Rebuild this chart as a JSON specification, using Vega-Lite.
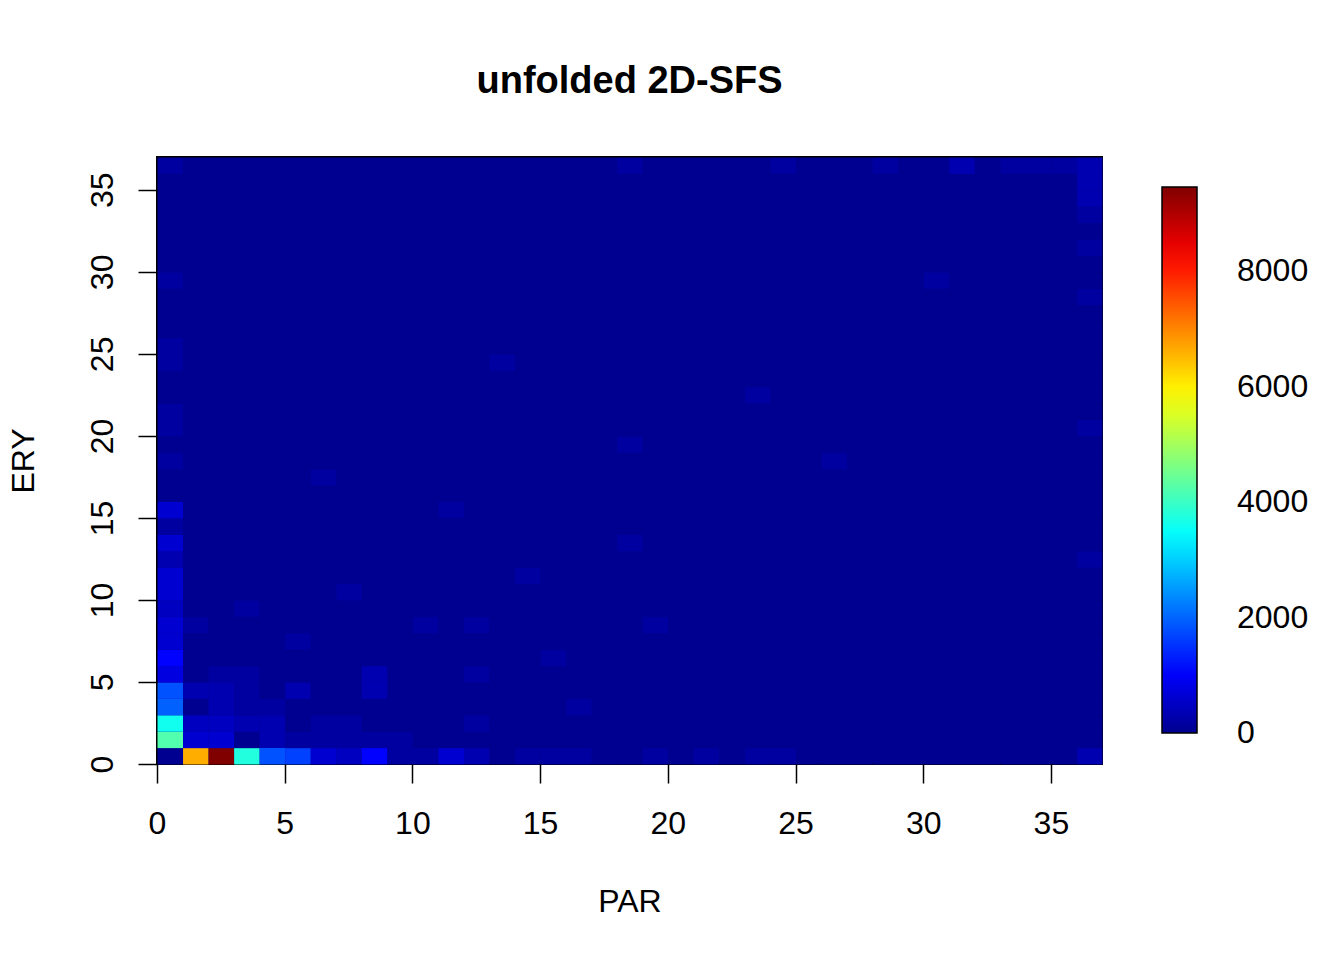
{
"$schema": "https://vega.github.io/schema/vega-lite/v6.json",
"width": 945,
"height": 607,
"autosize": {"type": "none"},
"padding": {"left": 157, "top": 157, "right": 242, "bottom": 196},
"background": "white",
"config": {"view": {"stroke": "black", "strokeWidth": 2, "fill": "#00008F"}, "font": "Liberation Sans"},
"title": {"text": "unfolded 2D-SFS", "fontSize": 38, "fontWeight": "bold", "font": "Liberation Sans", "color": "black", "anchor": "middle", "frame": "group", "baseline": "alphabetic", "offset": 26},
"data": {"values": [
{"par":0,"ery":0,"n":10},{"par":1,"ery":0,"n":6617},{"par":2,"ery":0,"n":9460},{"par":3,"ery":0,"n":3764},{"par":4,"ery":0,"n":1812},{"par":5,"ery":0,"n":1662},{"par":6,"ery":0,"n":610},{"par":7,"ery":0,"n":460},{"par":8,"ery":0,"n":1061},{"par":9,"ery":0,"n":160},{"par":10,"ery":0,"n":160},{"par":11,"ery":0,"n":610},{"par":12,"ery":0,"n":310},{"par":13,"ery":0,"n":10},{"par":14,"ery":0,"n":160},{"par":15,"ery":0,"n":160},{"par":16,"ery":0,"n":160},{"par":17,"ery":0,"n":10},{"par":18,"ery":0,"n":10},{"par":19,"ery":0,"n":160},{"par":20,"ery":0,"n":10},{"par":21,"ery":0,"n":160},{"par":22,"ery":0,"n":10},{"par":23,"ery":0,"n":160},{"par":24,"ery":0,"n":160},{"par":25,"ery":0,"n":10},{"par":26,"ery":0,"n":10},{"par":27,"ery":0,"n":10},{"par":28,"ery":0,"n":10},{"par":29,"ery":0,"n":10},{"par":30,"ery":0,"n":10},{"par":31,"ery":0,"n":10},{"par":32,"ery":0,"n":10},{"par":33,"ery":0,"n":10},{"par":34,"ery":0,"n":10},{"par":35,"ery":0,"n":10},{"par":36,"ery":0,"n":310},
{"par":0,"ery":1,"n":4214},{"par":1,"ery":1,"n":610},{"par":2,"ery":1,"n":610},{"par":3,"ery":1,"n":10},{"par":4,"ery":1,"n":310},{"par":5,"ery":1,"n":160},{"par":6,"ery":1,"n":160},{"par":7,"ery":1,"n":160},{"par":8,"ery":1,"n":160},{"par":9,"ery":1,"n":160},{"par":10,"ery":1,"n":10},{"par":11,"ery":1,"n":10},{"par":12,"ery":1,"n":10},{"par":13,"ery":1,"n":10},{"par":14,"ery":1,"n":10},{"par":15,"ery":1,"n":10},{"par":16,"ery":1,"n":10},{"par":17,"ery":1,"n":10},{"par":18,"ery":1,"n":10},{"par":19,"ery":1,"n":10},{"par":20,"ery":1,"n":10},{"par":21,"ery":1,"n":10},{"par":22,"ery":1,"n":10},{"par":23,"ery":1,"n":10},{"par":24,"ery":1,"n":10},{"par":25,"ery":1,"n":10},{"par":26,"ery":1,"n":10},{"par":27,"ery":1,"n":10},{"par":28,"ery":1,"n":10},{"par":29,"ery":1,"n":10},{"par":30,"ery":1,"n":10},{"par":31,"ery":1,"n":10},{"par":32,"ery":1,"n":10},{"par":33,"ery":1,"n":10},{"par":34,"ery":1,"n":10},{"par":35,"ery":1,"n":10},{"par":36,"ery":1,"n":10},
{"par":0,"ery":2,"n":3614},{"par":1,"ery":2,"n":460},{"par":2,"ery":2,"n":460},{"par":3,"ery":2,"n":310},{"par":4,"ery":2,"n":310},{"par":5,"ery":2,"n":10},{"par":6,"ery":2,"n":160},{"par":7,"ery":2,"n":160},{"par":8,"ery":2,"n":10},{"par":9,"ery":2,"n":10},{"par":10,"ery":2,"n":10},{"par":11,"ery":2,"n":10},{"par":12,"ery":2,"n":160},{"par":13,"ery":2,"n":10},{"par":14,"ery":2,"n":10},{"par":15,"ery":2,"n":10},{"par":16,"ery":2,"n":10},{"par":17,"ery":2,"n":10},{"par":18,"ery":2,"n":10},{"par":19,"ery":2,"n":10},{"par":20,"ery":2,"n":10},{"par":21,"ery":2,"n":10},{"par":22,"ery":2,"n":10},{"par":23,"ery":2,"n":10},{"par":24,"ery":2,"n":10},{"par":25,"ery":2,"n":10},{"par":26,"ery":2,"n":10},{"par":27,"ery":2,"n":10},{"par":28,"ery":2,"n":10},{"par":29,"ery":2,"n":10},{"par":30,"ery":2,"n":10},{"par":31,"ery":2,"n":10},{"par":32,"ery":2,"n":10},{"par":33,"ery":2,"n":10},{"par":34,"ery":2,"n":10},{"par":35,"ery":2,"n":10},{"par":36,"ery":2,"n":10},
{"par":0,"ery":3,"n":1962},{"par":1,"ery":3,"n":10},{"par":2,"ery":3,"n":310},{"par":3,"ery":3,"n":160},{"par":4,"ery":3,"n":160},{"par":5,"ery":3,"n":10},{"par":6,"ery":3,"n":10},{"par":7,"ery":3,"n":10},{"par":8,"ery":3,"n":10},{"par":9,"ery":3,"n":10},{"par":10,"ery":3,"n":10},{"par":11,"ery":3,"n":10},{"par":12,"ery":3,"n":10},{"par":13,"ery":3,"n":10},{"par":14,"ery":3,"n":10},{"par":15,"ery":3,"n":10},{"par":16,"ery":3,"n":160},{"par":17,"ery":3,"n":10},{"par":18,"ery":3,"n":10},{"par":19,"ery":3,"n":10},{"par":20,"ery":3,"n":10},{"par":21,"ery":3,"n":10},{"par":22,"ery":3,"n":10},{"par":23,"ery":3,"n":10},{"par":24,"ery":3,"n":10},{"par":25,"ery":3,"n":10},{"par":26,"ery":3,"n":10},{"par":27,"ery":3,"n":10},{"par":28,"ery":3,"n":10},{"par":29,"ery":3,"n":10},{"par":30,"ery":3,"n":10},{"par":31,"ery":3,"n":10},{"par":32,"ery":3,"n":10},{"par":33,"ery":3,"n":10},{"par":34,"ery":3,"n":10},{"par":35,"ery":3,"n":10},{"par":36,"ery":3,"n":10},
{"par":0,"ery":4,"n":1812},{"par":1,"ery":4,"n":310},{"par":2,"ery":4,"n":310},{"par":3,"ery":4,"n":160},{"par":4,"ery":4,"n":10},{"par":5,"ery":4,"n":310},{"par":6,"ery":4,"n":10},{"par":7,"ery":4,"n":10},{"par":8,"ery":4,"n":310},{"par":9,"ery":4,"n":10},{"par":10,"ery":4,"n":10},{"par":11,"ery":4,"n":10},{"par":12,"ery":4,"n":10},{"par":13,"ery":4,"n":10},{"par":14,"ery":4,"n":10},{"par":15,"ery":4,"n":10},{"par":16,"ery":4,"n":10},{"par":17,"ery":4,"n":10},{"par":18,"ery":4,"n":10},{"par":19,"ery":4,"n":10},{"par":20,"ery":4,"n":10},{"par":21,"ery":4,"n":10},{"par":22,"ery":4,"n":10},{"par":23,"ery":4,"n":10},{"par":24,"ery":4,"n":10},{"par":25,"ery":4,"n":10},{"par":26,"ery":4,"n":10},{"par":27,"ery":4,"n":10},{"par":28,"ery":4,"n":10},{"par":29,"ery":4,"n":10},{"par":30,"ery":4,"n":10},{"par":31,"ery":4,"n":10},{"par":32,"ery":4,"n":10},{"par":33,"ery":4,"n":10},{"par":34,"ery":4,"n":10},{"par":35,"ery":4,"n":10},{"par":36,"ery":4,"n":10},
{"par":0,"ery":5,"n":760},{"par":1,"ery":5,"n":10},{"par":2,"ery":5,"n":160},{"par":3,"ery":5,"n":160},{"par":4,"ery":5,"n":10},{"par":5,"ery":5,"n":10},{"par":6,"ery":5,"n":10},{"par":7,"ery":5,"n":10},{"par":8,"ery":5,"n":310},{"par":9,"ery":5,"n":10},{"par":10,"ery":5,"n":10},{"par":11,"ery":5,"n":10},{"par":12,"ery":5,"n":160},{"par":13,"ery":5,"n":10},{"par":14,"ery":5,"n":10},{"par":15,"ery":5,"n":10},{"par":16,"ery":5,"n":10},{"par":17,"ery":5,"n":10},{"par":18,"ery":5,"n":10},{"par":19,"ery":5,"n":10},{"par":20,"ery":5,"n":10},{"par":21,"ery":5,"n":10},{"par":22,"ery":5,"n":10},{"par":23,"ery":5,"n":10},{"par":24,"ery":5,"n":10},{"par":25,"ery":5,"n":10},{"par":26,"ery":5,"n":10},{"par":27,"ery":5,"n":10},{"par":28,"ery":5,"n":10},{"par":29,"ery":5,"n":10},{"par":30,"ery":5,"n":10},{"par":31,"ery":5,"n":10},{"par":32,"ery":5,"n":10},{"par":33,"ery":5,"n":10},{"par":34,"ery":5,"n":10},{"par":35,"ery":5,"n":10},{"par":36,"ery":5,"n":10},
{"par":0,"ery":6,"n":1061},{"par":1,"ery":6,"n":10},{"par":2,"ery":6,"n":10},{"par":3,"ery":6,"n":10},{"par":4,"ery":6,"n":10},{"par":5,"ery":6,"n":10},{"par":6,"ery":6,"n":10},{"par":7,"ery":6,"n":10},{"par":8,"ery":6,"n":10},{"par":9,"ery":6,"n":10},{"par":10,"ery":6,"n":10},{"par":11,"ery":6,"n":10},{"par":12,"ery":6,"n":10},{"par":13,"ery":6,"n":10},{"par":14,"ery":6,"n":10},{"par":15,"ery":6,"n":160},{"par":16,"ery":6,"n":10},{"par":17,"ery":6,"n":10},{"par":18,"ery":6,"n":10},{"par":19,"ery":6,"n":10},{"par":20,"ery":6,"n":10},{"par":21,"ery":6,"n":10},{"par":22,"ery":6,"n":10},{"par":23,"ery":6,"n":10},{"par":24,"ery":6,"n":10},{"par":25,"ery":6,"n":10},{"par":26,"ery":6,"n":10},{"par":27,"ery":6,"n":10},{"par":28,"ery":6,"n":10},{"par":29,"ery":6,"n":10},{"par":30,"ery":6,"n":10},{"par":31,"ery":6,"n":10},{"par":32,"ery":6,"n":10},{"par":33,"ery":6,"n":10},{"par":34,"ery":6,"n":10},{"par":35,"ery":6,"n":10},{"par":36,"ery":6,"n":10},
{"par":0,"ery":7,"n":610},{"par":1,"ery":7,"n":10},{"par":2,"ery":7,"n":10},{"par":3,"ery":7,"n":10},{"par":4,"ery":7,"n":10},{"par":5,"ery":7,"n":160},{"par":6,"ery":7,"n":10},{"par":7,"ery":7,"n":10},{"par":8,"ery":7,"n":10},{"par":9,"ery":7,"n":10},{"par":10,"ery":7,"n":10},{"par":11,"ery":7,"n":10},{"par":12,"ery":7,"n":10},{"par":13,"ery":7,"n":10},{"par":14,"ery":7,"n":10},{"par":15,"ery":7,"n":10},{"par":16,"ery":7,"n":10},{"par":17,"ery":7,"n":10},{"par":18,"ery":7,"n":10},{"par":19,"ery":7,"n":10},{"par":20,"ery":7,"n":10},{"par":21,"ery":7,"n":10},{"par":22,"ery":7,"n":10},{"par":23,"ery":7,"n":10},{"par":24,"ery":7,"n":10},{"par":25,"ery":7,"n":10},{"par":26,"ery":7,"n":10},{"par":27,"ery":7,"n":10},{"par":28,"ery":7,"n":10},{"par":29,"ery":7,"n":10},{"par":30,"ery":7,"n":10},{"par":31,"ery":7,"n":10},{"par":32,"ery":7,"n":10},{"par":33,"ery":7,"n":10},{"par":34,"ery":7,"n":10},{"par":35,"ery":7,"n":10},{"par":36,"ery":7,"n":10},
{"par":0,"ery":8,"n":610},{"par":1,"ery":8,"n":160},{"par":2,"ery":8,"n":10},{"par":3,"ery":8,"n":10},{"par":4,"ery":8,"n":10},{"par":5,"ery":8,"n":10},{"par":6,"ery":8,"n":10},{"par":7,"ery":8,"n":10},{"par":8,"ery":8,"n":10},{"par":9,"ery":8,"n":10},{"par":10,"ery":8,"n":160},{"par":11,"ery":8,"n":10},{"par":12,"ery":8,"n":160},{"par":13,"ery":8,"n":10},{"par":14,"ery":8,"n":10},{"par":15,"ery":8,"n":10},{"par":16,"ery":8,"n":10},{"par":17,"ery":8,"n":10},{"par":18,"ery":8,"n":10},{"par":19,"ery":8,"n":160},{"par":20,"ery":8,"n":10},{"par":21,"ery":8,"n":10},{"par":22,"ery":8,"n":10},{"par":23,"ery":8,"n":10},{"par":24,"ery":8,"n":10},{"par":25,"ery":8,"n":10},{"par":26,"ery":8,"n":10},{"par":27,"ery":8,"n":10},{"par":28,"ery":8,"n":10},{"par":29,"ery":8,"n":10},{"par":30,"ery":8,"n":10},{"par":31,"ery":8,"n":10},{"par":32,"ery":8,"n":10},{"par":33,"ery":8,"n":10},{"par":34,"ery":8,"n":10},{"par":35,"ery":8,"n":10},{"par":36,"ery":8,"n":10},
{"par":0,"ery":9,"n":460},{"par":1,"ery":9,"n":10},{"par":2,"ery":9,"n":10},{"par":3,"ery":9,"n":160},{"par":4,"ery":9,"n":10},{"par":5,"ery":9,"n":10},{"par":6,"ery":9,"n":10},{"par":7,"ery":9,"n":10},{"par":8,"ery":9,"n":10},{"par":9,"ery":9,"n":10},{"par":10,"ery":9,"n":10},{"par":11,"ery":9,"n":10},{"par":12,"ery":9,"n":10},{"par":13,"ery":9,"n":10},{"par":14,"ery":9,"n":10},{"par":15,"ery":9,"n":10},{"par":16,"ery":9,"n":10},{"par":17,"ery":9,"n":10},{"par":18,"ery":9,"n":10},{"par":19,"ery":9,"n":10},{"par":20,"ery":9,"n":10},{"par":21,"ery":9,"n":10},{"par":22,"ery":9,"n":10},{"par":23,"ery":9,"n":10},{"par":24,"ery":9,"n":10},{"par":25,"ery":9,"n":10},{"par":26,"ery":9,"n":10},{"par":27,"ery":9,"n":10},{"par":28,"ery":9,"n":10},{"par":29,"ery":9,"n":10},{"par":30,"ery":9,"n":10},{"par":31,"ery":9,"n":10},{"par":32,"ery":9,"n":10},{"par":33,"ery":9,"n":10},{"par":34,"ery":9,"n":10},{"par":35,"ery":9,"n":10},{"par":36,"ery":9,"n":10},
{"par":0,"ery":10,"n":610},{"par":1,"ery":10,"n":10},{"par":2,"ery":10,"n":10},{"par":3,"ery":10,"n":10},{"par":4,"ery":10,"n":10},{"par":5,"ery":10,"n":10},{"par":6,"ery":10,"n":10},{"par":7,"ery":10,"n":160},{"par":8,"ery":10,"n":10},{"par":9,"ery":10,"n":10},{"par":10,"ery":10,"n":10},{"par":11,"ery":10,"n":10},{"par":12,"ery":10,"n":10},{"par":13,"ery":10,"n":10},{"par":14,"ery":10,"n":10},{"par":15,"ery":10,"n":10},{"par":16,"ery":10,"n":10},{"par":17,"ery":10,"n":10},{"par":18,"ery":10,"n":10},{"par":19,"ery":10,"n":10},{"par":20,"ery":10,"n":10},{"par":21,"ery":10,"n":10},{"par":22,"ery":10,"n":10},{"par":23,"ery":10,"n":10},{"par":24,"ery":10,"n":10},{"par":25,"ery":10,"n":10},{"par":26,"ery":10,"n":10},{"par":27,"ery":10,"n":10},{"par":28,"ery":10,"n":10},{"par":29,"ery":10,"n":10},{"par":30,"ery":10,"n":10},{"par":31,"ery":10,"n":10},{"par":32,"ery":10,"n":10},{"par":33,"ery":10,"n":10},{"par":34,"ery":10,"n":10},{"par":35,"ery":10,"n":10},{"par":36,"ery":10,"n":10},
{"par":0,"ery":11,"n":610},{"par":1,"ery":11,"n":10},{"par":2,"ery":11,"n":10},{"par":3,"ery":11,"n":10},{"par":4,"ery":11,"n":10},{"par":5,"ery":11,"n":10},{"par":6,"ery":11,"n":10},{"par":7,"ery":11,"n":10},{"par":8,"ery":11,"n":10},{"par":9,"ery":11,"n":10},{"par":10,"ery":11,"n":10},{"par":11,"ery":11,"n":10},{"par":12,"ery":11,"n":10},{"par":13,"ery":11,"n":10},{"par":14,"ery":11,"n":160},{"par":15,"ery":11,"n":10},{"par":16,"ery":11,"n":10},{"par":17,"ery":11,"n":10},{"par":18,"ery":11,"n":10},{"par":19,"ery":11,"n":10},{"par":20,"ery":11,"n":10},{"par":21,"ery":11,"n":10},{"par":22,"ery":11,"n":10},{"par":23,"ery":11,"n":10},{"par":24,"ery":11,"n":10},{"par":25,"ery":11,"n":10},{"par":26,"ery":11,"n":10},{"par":27,"ery":11,"n":10},{"par":28,"ery":11,"n":10},{"par":29,"ery":11,"n":10},{"par":30,"ery":11,"n":10},{"par":31,"ery":11,"n":10},{"par":32,"ery":11,"n":10},{"par":33,"ery":11,"n":10},{"par":34,"ery":11,"n":10},{"par":35,"ery":11,"n":10},{"par":36,"ery":11,"n":10},
{"par":0,"ery":12,"n":310},{"par":1,"ery":12,"n":10},{"par":2,"ery":12,"n":10},{"par":3,"ery":12,"n":10},{"par":4,"ery":12,"n":10},{"par":5,"ery":12,"n":10},{"par":6,"ery":12,"n":10},{"par":7,"ery":12,"n":10},{"par":8,"ery":12,"n":10},{"par":9,"ery":12,"n":10},{"par":10,"ery":12,"n":10},{"par":11,"ery":12,"n":10},{"par":12,"ery":12,"n":10},{"par":13,"ery":12,"n":10},{"par":14,"ery":12,"n":10},{"par":15,"ery":12,"n":10},{"par":16,"ery":12,"n":10},{"par":17,"ery":12,"n":10},{"par":18,"ery":12,"n":10},{"par":19,"ery":12,"n":10},{"par":20,"ery":12,"n":10},{"par":21,"ery":12,"n":10},{"par":22,"ery":12,"n":10},{"par":23,"ery":12,"n":10},{"par":24,"ery":12,"n":10},{"par":25,"ery":12,"n":10},{"par":26,"ery":12,"n":10},{"par":27,"ery":12,"n":10},{"par":28,"ery":12,"n":10},{"par":29,"ery":12,"n":10},{"par":30,"ery":12,"n":10},{"par":31,"ery":12,"n":10},{"par":32,"ery":12,"n":10},{"par":33,"ery":12,"n":10},{"par":34,"ery":12,"n":10},{"par":35,"ery":12,"n":10},{"par":36,"ery":12,"n":160},
{"par":0,"ery":13,"n":610},{"par":1,"ery":13,"n":10},{"par":2,"ery":13,"n":10},{"par":3,"ery":13,"n":10},{"par":4,"ery":13,"n":10},{"par":5,"ery":13,"n":10},{"par":6,"ery":13,"n":10},{"par":7,"ery":13,"n":10},{"par":8,"ery":13,"n":10},{"par":9,"ery":13,"n":10},{"par":10,"ery":13,"n":10},{"par":11,"ery":13,"n":10},{"par":12,"ery":13,"n":10},{"par":13,"ery":13,"n":10},{"par":14,"ery":13,"n":10},{"par":15,"ery":13,"n":10},{"par":16,"ery":13,"n":10},{"par":17,"ery":13,"n":10},{"par":18,"ery":13,"n":160},{"par":19,"ery":13,"n":10},{"par":20,"ery":13,"n":10},{"par":21,"ery":13,"n":10},{"par":22,"ery":13,"n":10},{"par":23,"ery":13,"n":10},{"par":24,"ery":13,"n":10},{"par":25,"ery":13,"n":10},{"par":26,"ery":13,"n":10},{"par":27,"ery":13,"n":10},{"par":28,"ery":13,"n":10},{"par":29,"ery":13,"n":10},{"par":30,"ery":13,"n":10},{"par":31,"ery":13,"n":10},{"par":32,"ery":13,"n":10},{"par":33,"ery":13,"n":10},{"par":34,"ery":13,"n":10},{"par":35,"ery":13,"n":10},{"par":36,"ery":13,"n":10},
{"par":0,"ery":14,"n":160},{"par":1,"ery":14,"n":10},{"par":2,"ery":14,"n":10},{"par":3,"ery":14,"n":10},{"par":4,"ery":14,"n":10},{"par":5,"ery":14,"n":10},{"par":6,"ery":14,"n":10},{"par":7,"ery":14,"n":10},{"par":8,"ery":14,"n":10},{"par":9,"ery":14,"n":10},{"par":10,"ery":14,"n":10},{"par":11,"ery":14,"n":10},{"par":12,"ery":14,"n":10},{"par":13,"ery":14,"n":10},{"par":14,"ery":14,"n":10},{"par":15,"ery":14,"n":10},{"par":16,"ery":14,"n":10},{"par":17,"ery":14,"n":10},{"par":18,"ery":14,"n":10},{"par":19,"ery":14,"n":10},{"par":20,"ery":14,"n":10},{"par":21,"ery":14,"n":10},{"par":22,"ery":14,"n":10},{"par":23,"ery":14,"n":10},{"par":24,"ery":14,"n":10},{"par":25,"ery":14,"n":10},{"par":26,"ery":14,"n":10},{"par":27,"ery":14,"n":10},{"par":28,"ery":14,"n":10},{"par":29,"ery":14,"n":10},{"par":30,"ery":14,"n":10},{"par":31,"ery":14,"n":10},{"par":32,"ery":14,"n":10},{"par":33,"ery":14,"n":10},{"par":34,"ery":14,"n":10},{"par":35,"ery":14,"n":10},{"par":36,"ery":14,"n":10},
{"par":0,"ery":15,"n":610},{"par":1,"ery":15,"n":10},{"par":2,"ery":15,"n":10},{"par":3,"ery":15,"n":10},{"par":4,"ery":15,"n":10},{"par":5,"ery":15,"n":10},{"par":6,"ery":15,"n":10},{"par":7,"ery":15,"n":10},{"par":8,"ery":15,"n":10},{"par":9,"ery":15,"n":10},{"par":10,"ery":15,"n":10},{"par":11,"ery":15,"n":160},{"par":12,"ery":15,"n":10},{"par":13,"ery":15,"n":10},{"par":14,"ery":15,"n":10},{"par":15,"ery":15,"n":10},{"par":16,"ery":15,"n":10},{"par":17,"ery":15,"n":10},{"par":18,"ery":15,"n":10},{"par":19,"ery":15,"n":10},{"par":20,"ery":15,"n":10},{"par":21,"ery":15,"n":10},{"par":22,"ery":15,"n":10},{"par":23,"ery":15,"n":10},{"par":24,"ery":15,"n":10},{"par":25,"ery":15,"n":10},{"par":26,"ery":15,"n":10},{"par":27,"ery":15,"n":10},{"par":28,"ery":15,"n":10},{"par":29,"ery":15,"n":10},{"par":30,"ery":15,"n":10},{"par":31,"ery":15,"n":10},{"par":32,"ery":15,"n":10},{"par":33,"ery":15,"n":10},{"par":34,"ery":15,"n":10},{"par":35,"ery":15,"n":10},{"par":36,"ery":15,"n":10},
{"par":0,"ery":16,"n":10},{"par":1,"ery":16,"n":10},{"par":2,"ery":16,"n":10},{"par":3,"ery":16,"n":10},{"par":4,"ery":16,"n":10},{"par":5,"ery":16,"n":10},{"par":6,"ery":16,"n":10},{"par":7,"ery":16,"n":10},{"par":8,"ery":16,"n":10},{"par":9,"ery":16,"n":10},{"par":10,"ery":16,"n":10},{"par":11,"ery":16,"n":10},{"par":12,"ery":16,"n":10},{"par":13,"ery":16,"n":10},{"par":14,"ery":16,"n":10},{"par":15,"ery":16,"n":10},{"par":16,"ery":16,"n":10},{"par":17,"ery":16,"n":10},{"par":18,"ery":16,"n":10},{"par":19,"ery":16,"n":10},{"par":20,"ery":16,"n":10},{"par":21,"ery":16,"n":10},{"par":22,"ery":16,"n":10},{"par":23,"ery":16,"n":10},{"par":24,"ery":16,"n":10},{"par":25,"ery":16,"n":10},{"par":26,"ery":16,"n":10},{"par":27,"ery":16,"n":10},{"par":28,"ery":16,"n":10},{"par":29,"ery":16,"n":10},{"par":30,"ery":16,"n":10},{"par":31,"ery":16,"n":10},{"par":32,"ery":16,"n":10},{"par":33,"ery":16,"n":10},{"par":34,"ery":16,"n":10},{"par":35,"ery":16,"n":10},{"par":36,"ery":16,"n":10},
{"par":0,"ery":17,"n":10},{"par":1,"ery":17,"n":10},{"par":2,"ery":17,"n":10},{"par":3,"ery":17,"n":10},{"par":4,"ery":17,"n":10},{"par":5,"ery":17,"n":10},{"par":6,"ery":17,"n":160},{"par":7,"ery":17,"n":10},{"par":8,"ery":17,"n":10},{"par":9,"ery":17,"n":10},{"par":10,"ery":17,"n":10},{"par":11,"ery":17,"n":10},{"par":12,"ery":17,"n":10},{"par":13,"ery":17,"n":10},{"par":14,"ery":17,"n":10},{"par":15,"ery":17,"n":10},{"par":16,"ery":17,"n":10},{"par":17,"ery":17,"n":10},{"par":18,"ery":17,"n":10},{"par":19,"ery":17,"n":10},{"par":20,"ery":17,"n":10},{"par":21,"ery":17,"n":10},{"par":22,"ery":17,"n":10},{"par":23,"ery":17,"n":10},{"par":24,"ery":17,"n":10},{"par":25,"ery":17,"n":10},{"par":26,"ery":17,"n":10},{"par":27,"ery":17,"n":10},{"par":28,"ery":17,"n":10},{"par":29,"ery":17,"n":10},{"par":30,"ery":17,"n":10},{"par":31,"ery":17,"n":10},{"par":32,"ery":17,"n":10},{"par":33,"ery":17,"n":10},{"par":34,"ery":17,"n":10},{"par":35,"ery":17,"n":10},{"par":36,"ery":17,"n":10},
{"par":0,"ery":18,"n":160},{"par":1,"ery":18,"n":10},{"par":2,"ery":18,"n":10},{"par":3,"ery":18,"n":10},{"par":4,"ery":18,"n":10},{"par":5,"ery":18,"n":10},{"par":6,"ery":18,"n":10},{"par":7,"ery":18,"n":10},{"par":8,"ery":18,"n":10},{"par":9,"ery":18,"n":10},{"par":10,"ery":18,"n":10},{"par":11,"ery":18,"n":10},{"par":12,"ery":18,"n":10},{"par":13,"ery":18,"n":10},{"par":14,"ery":18,"n":10},{"par":15,"ery":18,"n":10},{"par":16,"ery":18,"n":10},{"par":17,"ery":18,"n":10},{"par":18,"ery":18,"n":10},{"par":19,"ery":18,"n":10},{"par":20,"ery":18,"n":10},{"par":21,"ery":18,"n":10},{"par":22,"ery":18,"n":10},{"par":23,"ery":18,"n":10},{"par":24,"ery":18,"n":10},{"par":25,"ery":18,"n":10},{"par":26,"ery":18,"n":160},{"par":27,"ery":18,"n":10},{"par":28,"ery":18,"n":10},{"par":29,"ery":18,"n":10},{"par":30,"ery":18,"n":10},{"par":31,"ery":18,"n":10},{"par":32,"ery":18,"n":10},{"par":33,"ery":18,"n":10},{"par":34,"ery":18,"n":10},{"par":35,"ery":18,"n":10},{"par":36,"ery":18,"n":10},
{"par":0,"ery":19,"n":10},{"par":1,"ery":19,"n":10},{"par":2,"ery":19,"n":10},{"par":3,"ery":19,"n":10},{"par":4,"ery":19,"n":10},{"par":5,"ery":19,"n":10},{"par":6,"ery":19,"n":10},{"par":7,"ery":19,"n":10},{"par":8,"ery":19,"n":10},{"par":9,"ery":19,"n":10},{"par":10,"ery":19,"n":10},{"par":11,"ery":19,"n":10},{"par":12,"ery":19,"n":10},{"par":13,"ery":19,"n":10},{"par":14,"ery":19,"n":10},{"par":15,"ery":19,"n":10},{"par":16,"ery":19,"n":10},{"par":17,"ery":19,"n":10},{"par":18,"ery":19,"n":160},{"par":19,"ery":19,"n":10},{"par":20,"ery":19,"n":10},{"par":21,"ery":19,"n":10},{"par":22,"ery":19,"n":10},{"par":23,"ery":19,"n":10},{"par":24,"ery":19,"n":10},{"par":25,"ery":19,"n":10},{"par":26,"ery":19,"n":10},{"par":27,"ery":19,"n":10},{"par":28,"ery":19,"n":10},{"par":29,"ery":19,"n":10},{"par":30,"ery":19,"n":10},{"par":31,"ery":19,"n":10},{"par":32,"ery":19,"n":10},{"par":33,"ery":19,"n":10},{"par":34,"ery":19,"n":10},{"par":35,"ery":19,"n":10},{"par":36,"ery":19,"n":10},
{"par":0,"ery":20,"n":160},{"par":1,"ery":20,"n":10},{"par":2,"ery":20,"n":10},{"par":3,"ery":20,"n":10},{"par":4,"ery":20,"n":10},{"par":5,"ery":20,"n":10},{"par":6,"ery":20,"n":10},{"par":7,"ery":20,"n":10},{"par":8,"ery":20,"n":10},{"par":9,"ery":20,"n":10},{"par":10,"ery":20,"n":10},{"par":11,"ery":20,"n":10},{"par":12,"ery":20,"n":10},{"par":13,"ery":20,"n":10},{"par":14,"ery":20,"n":10},{"par":15,"ery":20,"n":10},{"par":16,"ery":20,"n":10},{"par":17,"ery":20,"n":10},{"par":18,"ery":20,"n":10},{"par":19,"ery":20,"n":10},{"par":20,"ery":20,"n":10},{"par":21,"ery":20,"n":10},{"par":22,"ery":20,"n":10},{"par":23,"ery":20,"n":10},{"par":24,"ery":20,"n":10},{"par":25,"ery":20,"n":10},{"par":26,"ery":20,"n":10},{"par":27,"ery":20,"n":10},{"par":28,"ery":20,"n":10},{"par":29,"ery":20,"n":10},{"par":30,"ery":20,"n":10},{"par":31,"ery":20,"n":10},{"par":32,"ery":20,"n":10},{"par":33,"ery":20,"n":10},{"par":34,"ery":20,"n":10},{"par":35,"ery":20,"n":10},{"par":36,"ery":20,"n":160},
{"par":0,"ery":21,"n":160},{"par":1,"ery":21,"n":10},{"par":2,"ery":21,"n":10},{"par":3,"ery":21,"n":10},{"par":4,"ery":21,"n":10},{"par":5,"ery":21,"n":10},{"par":6,"ery":21,"n":10},{"par":7,"ery":21,"n":10},{"par":8,"ery":21,"n":10},{"par":9,"ery":21,"n":10},{"par":10,"ery":21,"n":10},{"par":11,"ery":21,"n":10},{"par":12,"ery":21,"n":10},{"par":13,"ery":21,"n":10},{"par":14,"ery":21,"n":10},{"par":15,"ery":21,"n":10},{"par":16,"ery":21,"n":10},{"par":17,"ery":21,"n":10},{"par":18,"ery":21,"n":10},{"par":19,"ery":21,"n":10},{"par":20,"ery":21,"n":10},{"par":21,"ery":21,"n":10},{"par":22,"ery":21,"n":10},{"par":23,"ery":21,"n":10},{"par":24,"ery":21,"n":10},{"par":25,"ery":21,"n":10},{"par":26,"ery":21,"n":10},{"par":27,"ery":21,"n":10},{"par":28,"ery":21,"n":10},{"par":29,"ery":21,"n":10},{"par":30,"ery":21,"n":10},{"par":31,"ery":21,"n":10},{"par":32,"ery":21,"n":10},{"par":33,"ery":21,"n":10},{"par":34,"ery":21,"n":10},{"par":35,"ery":21,"n":10},{"par":36,"ery":21,"n":10},
{"par":0,"ery":22,"n":10},{"par":1,"ery":22,"n":10},{"par":2,"ery":22,"n":10},{"par":3,"ery":22,"n":10},{"par":4,"ery":22,"n":10},{"par":5,"ery":22,"n":10},{"par":6,"ery":22,"n":10},{"par":7,"ery":22,"n":10},{"par":8,"ery":22,"n":10},{"par":9,"ery":22,"n":10},{"par":10,"ery":22,"n":10},{"par":11,"ery":22,"n":10},{"par":12,"ery":22,"n":10},{"par":13,"ery":22,"n":10},{"par":14,"ery":22,"n":10},{"par":15,"ery":22,"n":10},{"par":16,"ery":22,"n":10},{"par":17,"ery":22,"n":10},{"par":18,"ery":22,"n":10},{"par":19,"ery":22,"n":10},{"par":20,"ery":22,"n":10},{"par":21,"ery":22,"n":10},{"par":22,"ery":22,"n":10},{"par":23,"ery":22,"n":160},{"par":24,"ery":22,"n":10},{"par":25,"ery":22,"n":10},{"par":26,"ery":22,"n":10},{"par":27,"ery":22,"n":10},{"par":28,"ery":22,"n":10},{"par":29,"ery":22,"n":10},{"par":30,"ery":22,"n":10},{"par":31,"ery":22,"n":10},{"par":32,"ery":22,"n":10},{"par":33,"ery":22,"n":10},{"par":34,"ery":22,"n":10},{"par":35,"ery":22,"n":10},{"par":36,"ery":22,"n":10},
{"par":0,"ery":23,"n":10},{"par":1,"ery":23,"n":10},{"par":2,"ery":23,"n":10},{"par":3,"ery":23,"n":10},{"par":4,"ery":23,"n":10},{"par":5,"ery":23,"n":10},{"par":6,"ery":23,"n":10},{"par":7,"ery":23,"n":10},{"par":8,"ery":23,"n":10},{"par":9,"ery":23,"n":10},{"par":10,"ery":23,"n":10},{"par":11,"ery":23,"n":10},{"par":12,"ery":23,"n":10},{"par":13,"ery":23,"n":10},{"par":14,"ery":23,"n":10},{"par":15,"ery":23,"n":10},{"par":16,"ery":23,"n":10},{"par":17,"ery":23,"n":10},{"par":18,"ery":23,"n":10},{"par":19,"ery":23,"n":10},{"par":20,"ery":23,"n":10},{"par":21,"ery":23,"n":10},{"par":22,"ery":23,"n":10},{"par":23,"ery":23,"n":10},{"par":24,"ery":23,"n":10},{"par":25,"ery":23,"n":10},{"par":26,"ery":23,"n":10},{"par":27,"ery":23,"n":10},{"par":28,"ery":23,"n":10},{"par":29,"ery":23,"n":10},{"par":30,"ery":23,"n":10},{"par":31,"ery":23,"n":10},{"par":32,"ery":23,"n":10},{"par":33,"ery":23,"n":10},{"par":34,"ery":23,"n":10},{"par":35,"ery":23,"n":10},{"par":36,"ery":23,"n":10},
{"par":0,"ery":24,"n":160},{"par":1,"ery":24,"n":10},{"par":2,"ery":24,"n":10},{"par":3,"ery":24,"n":10},{"par":4,"ery":24,"n":10},{"par":5,"ery":24,"n":10},{"par":6,"ery":24,"n":10},{"par":7,"ery":24,"n":10},{"par":8,"ery":24,"n":10},{"par":9,"ery":24,"n":10},{"par":10,"ery":24,"n":10},{"par":11,"ery":24,"n":10},{"par":12,"ery":24,"n":10},{"par":13,"ery":24,"n":160},{"par":14,"ery":24,"n":10},{"par":15,"ery":24,"n":10},{"par":16,"ery":24,"n":10},{"par":17,"ery":24,"n":10},{"par":18,"ery":24,"n":10},{"par":19,"ery":24,"n":10},{"par":20,"ery":24,"n":10},{"par":21,"ery":24,"n":10},{"par":22,"ery":24,"n":10},{"par":23,"ery":24,"n":10},{"par":24,"ery":24,"n":10},{"par":25,"ery":24,"n":10},{"par":26,"ery":24,"n":10},{"par":27,"ery":24,"n":10},{"par":28,"ery":24,"n":10},{"par":29,"ery":24,"n":10},{"par":30,"ery":24,"n":10},{"par":31,"ery":24,"n":10},{"par":32,"ery":24,"n":10},{"par":33,"ery":24,"n":10},{"par":34,"ery":24,"n":10},{"par":35,"ery":24,"n":10},{"par":36,"ery":24,"n":10},
{"par":0,"ery":25,"n":160},{"par":1,"ery":25,"n":10},{"par":2,"ery":25,"n":10},{"par":3,"ery":25,"n":10},{"par":4,"ery":25,"n":10},{"par":5,"ery":25,"n":10},{"par":6,"ery":25,"n":10},{"par":7,"ery":25,"n":10},{"par":8,"ery":25,"n":10},{"par":9,"ery":25,"n":10},{"par":10,"ery":25,"n":10},{"par":11,"ery":25,"n":10},{"par":12,"ery":25,"n":10},{"par":13,"ery":25,"n":10},{"par":14,"ery":25,"n":10},{"par":15,"ery":25,"n":10},{"par":16,"ery":25,"n":10},{"par":17,"ery":25,"n":10},{"par":18,"ery":25,"n":10},{"par":19,"ery":25,"n":10},{"par":20,"ery":25,"n":10},{"par":21,"ery":25,"n":10},{"par":22,"ery":25,"n":10},{"par":23,"ery":25,"n":10},{"par":24,"ery":25,"n":10},{"par":25,"ery":25,"n":10},{"par":26,"ery":25,"n":10},{"par":27,"ery":25,"n":10},{"par":28,"ery":25,"n":10},{"par":29,"ery":25,"n":10},{"par":30,"ery":25,"n":10},{"par":31,"ery":25,"n":10},{"par":32,"ery":25,"n":10},{"par":33,"ery":25,"n":10},{"par":34,"ery":25,"n":10},{"par":35,"ery":25,"n":10},{"par":36,"ery":25,"n":10},
{"par":0,"ery":26,"n":10},{"par":1,"ery":26,"n":10},{"par":2,"ery":26,"n":10},{"par":3,"ery":26,"n":10},{"par":4,"ery":26,"n":10},{"par":5,"ery":26,"n":10},{"par":6,"ery":26,"n":10},{"par":7,"ery":26,"n":10},{"par":8,"ery":26,"n":10},{"par":9,"ery":26,"n":10},{"par":10,"ery":26,"n":10},{"par":11,"ery":26,"n":10},{"par":12,"ery":26,"n":10},{"par":13,"ery":26,"n":10},{"par":14,"ery":26,"n":10},{"par":15,"ery":26,"n":10},{"par":16,"ery":26,"n":10},{"par":17,"ery":26,"n":10},{"par":18,"ery":26,"n":10},{"par":19,"ery":26,"n":10},{"par":20,"ery":26,"n":10},{"par":21,"ery":26,"n":10},{"par":22,"ery":26,"n":10},{"par":23,"ery":26,"n":10},{"par":24,"ery":26,"n":10},{"par":25,"ery":26,"n":10},{"par":26,"ery":26,"n":10},{"par":27,"ery":26,"n":10},{"par":28,"ery":26,"n":10},{"par":29,"ery":26,"n":10},{"par":30,"ery":26,"n":10},{"par":31,"ery":26,"n":10},{"par":32,"ery":26,"n":10},{"par":33,"ery":26,"n":10},{"par":34,"ery":26,"n":10},{"par":35,"ery":26,"n":10},{"par":36,"ery":26,"n":10},
{"par":0,"ery":27,"n":10},{"par":1,"ery":27,"n":10},{"par":2,"ery":27,"n":10},{"par":3,"ery":27,"n":10},{"par":4,"ery":27,"n":10},{"par":5,"ery":27,"n":10},{"par":6,"ery":27,"n":10},{"par":7,"ery":27,"n":10},{"par":8,"ery":27,"n":10},{"par":9,"ery":27,"n":10},{"par":10,"ery":27,"n":10},{"par":11,"ery":27,"n":10},{"par":12,"ery":27,"n":10},{"par":13,"ery":27,"n":10},{"par":14,"ery":27,"n":10},{"par":15,"ery":27,"n":10},{"par":16,"ery":27,"n":10},{"par":17,"ery":27,"n":10},{"par":18,"ery":27,"n":10},{"par":19,"ery":27,"n":10},{"par":20,"ery":27,"n":10},{"par":21,"ery":27,"n":10},{"par":22,"ery":27,"n":10},{"par":23,"ery":27,"n":10},{"par":24,"ery":27,"n":10},{"par":25,"ery":27,"n":10},{"par":26,"ery":27,"n":10},{"par":27,"ery":27,"n":10},{"par":28,"ery":27,"n":10},{"par":29,"ery":27,"n":10},{"par":30,"ery":27,"n":10},{"par":31,"ery":27,"n":10},{"par":32,"ery":27,"n":10},{"par":33,"ery":27,"n":10},{"par":34,"ery":27,"n":10},{"par":35,"ery":27,"n":10},{"par":36,"ery":27,"n":10},
{"par":0,"ery":28,"n":10},{"par":1,"ery":28,"n":10},{"par":2,"ery":28,"n":10},{"par":3,"ery":28,"n":10},{"par":4,"ery":28,"n":10},{"par":5,"ery":28,"n":10},{"par":6,"ery":28,"n":10},{"par":7,"ery":28,"n":10},{"par":8,"ery":28,"n":10},{"par":9,"ery":28,"n":10},{"par":10,"ery":28,"n":10},{"par":11,"ery":28,"n":10},{"par":12,"ery":28,"n":10},{"par":13,"ery":28,"n":10},{"par":14,"ery":28,"n":10},{"par":15,"ery":28,"n":10},{"par":16,"ery":28,"n":10},{"par":17,"ery":28,"n":10},{"par":18,"ery":28,"n":10},{"par":19,"ery":28,"n":10},{"par":20,"ery":28,"n":10},{"par":21,"ery":28,"n":10},{"par":22,"ery":28,"n":10},{"par":23,"ery":28,"n":10},{"par":24,"ery":28,"n":10},{"par":25,"ery":28,"n":10},{"par":26,"ery":28,"n":10},{"par":27,"ery":28,"n":10},{"par":28,"ery":28,"n":10},{"par":29,"ery":28,"n":10},{"par":30,"ery":28,"n":10},{"par":31,"ery":28,"n":10},{"par":32,"ery":28,"n":10},{"par":33,"ery":28,"n":10},{"par":34,"ery":28,"n":10},{"par":35,"ery":28,"n":10},{"par":36,"ery":28,"n":160},
{"par":0,"ery":29,"n":160},{"par":1,"ery":29,"n":10},{"par":2,"ery":29,"n":10},{"par":3,"ery":29,"n":10},{"par":4,"ery":29,"n":10},{"par":5,"ery":29,"n":10},{"par":6,"ery":29,"n":10},{"par":7,"ery":29,"n":10},{"par":8,"ery":29,"n":10},{"par":9,"ery":29,"n":10},{"par":10,"ery":29,"n":10},{"par":11,"ery":29,"n":10},{"par":12,"ery":29,"n":10},{"par":13,"ery":29,"n":10},{"par":14,"ery":29,"n":10},{"par":15,"ery":29,"n":10},{"par":16,"ery":29,"n":10},{"par":17,"ery":29,"n":10},{"par":18,"ery":29,"n":10},{"par":19,"ery":29,"n":10},{"par":20,"ery":29,"n":10},{"par":21,"ery":29,"n":10},{"par":22,"ery":29,"n":10},{"par":23,"ery":29,"n":10},{"par":24,"ery":29,"n":10},{"par":25,"ery":29,"n":10},{"par":26,"ery":29,"n":10},{"par":27,"ery":29,"n":10},{"par":28,"ery":29,"n":10},{"par":29,"ery":29,"n":10},{"par":30,"ery":29,"n":160},{"par":31,"ery":29,"n":10},{"par":32,"ery":29,"n":10},{"par":33,"ery":29,"n":10},{"par":34,"ery":29,"n":10},{"par":35,"ery":29,"n":10},{"par":36,"ery":29,"n":10},
{"par":0,"ery":30,"n":10},{"par":1,"ery":30,"n":10},{"par":2,"ery":30,"n":10},{"par":3,"ery":30,"n":10},{"par":4,"ery":30,"n":10},{"par":5,"ery":30,"n":10},{"par":6,"ery":30,"n":10},{"par":7,"ery":30,"n":10},{"par":8,"ery":30,"n":10},{"par":9,"ery":30,"n":10},{"par":10,"ery":30,"n":10},{"par":11,"ery":30,"n":10},{"par":12,"ery":30,"n":10},{"par":13,"ery":30,"n":10},{"par":14,"ery":30,"n":10},{"par":15,"ery":30,"n":10},{"par":16,"ery":30,"n":10},{"par":17,"ery":30,"n":10},{"par":18,"ery":30,"n":10},{"par":19,"ery":30,"n":10},{"par":20,"ery":30,"n":10},{"par":21,"ery":30,"n":10},{"par":22,"ery":30,"n":10},{"par":23,"ery":30,"n":10},{"par":24,"ery":30,"n":10},{"par":25,"ery":30,"n":10},{"par":26,"ery":30,"n":10},{"par":27,"ery":30,"n":10},{"par":28,"ery":30,"n":10},{"par":29,"ery":30,"n":10},{"par":30,"ery":30,"n":10},{"par":31,"ery":30,"n":10},{"par":32,"ery":30,"n":10},{"par":33,"ery":30,"n":10},{"par":34,"ery":30,"n":10},{"par":35,"ery":30,"n":10},{"par":36,"ery":30,"n":10},
{"par":0,"ery":31,"n":10},{"par":1,"ery":31,"n":10},{"par":2,"ery":31,"n":10},{"par":3,"ery":31,"n":10},{"par":4,"ery":31,"n":10},{"par":5,"ery":31,"n":10},{"par":6,"ery":31,"n":10},{"par":7,"ery":31,"n":10},{"par":8,"ery":31,"n":10},{"par":9,"ery":31,"n":10},{"par":10,"ery":31,"n":10},{"par":11,"ery":31,"n":10},{"par":12,"ery":31,"n":10},{"par":13,"ery":31,"n":10},{"par":14,"ery":31,"n":10},{"par":15,"ery":31,"n":10},{"par":16,"ery":31,"n":10},{"par":17,"ery":31,"n":10},{"par":18,"ery":31,"n":10},{"par":19,"ery":31,"n":10},{"par":20,"ery":31,"n":10},{"par":21,"ery":31,"n":10},{"par":22,"ery":31,"n":10},{"par":23,"ery":31,"n":10},{"par":24,"ery":31,"n":10},{"par":25,"ery":31,"n":10},{"par":26,"ery":31,"n":10},{"par":27,"ery":31,"n":10},{"par":28,"ery":31,"n":10},{"par":29,"ery":31,"n":10},{"par":30,"ery":31,"n":10},{"par":31,"ery":31,"n":10},{"par":32,"ery":31,"n":10},{"par":33,"ery":31,"n":10},{"par":34,"ery":31,"n":10},{"par":35,"ery":31,"n":10},{"par":36,"ery":31,"n":160},
{"par":0,"ery":32,"n":10},{"par":1,"ery":32,"n":10},{"par":2,"ery":32,"n":10},{"par":3,"ery":32,"n":10},{"par":4,"ery":32,"n":10},{"par":5,"ery":32,"n":10},{"par":6,"ery":32,"n":10},{"par":7,"ery":32,"n":10},{"par":8,"ery":32,"n":10},{"par":9,"ery":32,"n":10},{"par":10,"ery":32,"n":10},{"par":11,"ery":32,"n":10},{"par":12,"ery":32,"n":10},{"par":13,"ery":32,"n":10},{"par":14,"ery":32,"n":10},{"par":15,"ery":32,"n":10},{"par":16,"ery":32,"n":10},{"par":17,"ery":32,"n":10},{"par":18,"ery":32,"n":10},{"par":19,"ery":32,"n":10},{"par":20,"ery":32,"n":10},{"par":21,"ery":32,"n":10},{"par":22,"ery":32,"n":10},{"par":23,"ery":32,"n":10},{"par":24,"ery":32,"n":10},{"par":25,"ery":32,"n":10},{"par":26,"ery":32,"n":10},{"par":27,"ery":32,"n":10},{"par":28,"ery":32,"n":10},{"par":29,"ery":32,"n":10},{"par":30,"ery":32,"n":10},{"par":31,"ery":32,"n":10},{"par":32,"ery":32,"n":10},{"par":33,"ery":32,"n":10},{"par":34,"ery":32,"n":10},{"par":35,"ery":32,"n":10},{"par":36,"ery":32,"n":10},
{"par":0,"ery":33,"n":10},{"par":1,"ery":33,"n":10},{"par":2,"ery":33,"n":10},{"par":3,"ery":33,"n":10},{"par":4,"ery":33,"n":10},{"par":5,"ery":33,"n":10},{"par":6,"ery":33,"n":10},{"par":7,"ery":33,"n":10},{"par":8,"ery":33,"n":10},{"par":9,"ery":33,"n":10},{"par":10,"ery":33,"n":10},{"par":11,"ery":33,"n":10},{"par":12,"ery":33,"n":10},{"par":13,"ery":33,"n":10},{"par":14,"ery":33,"n":10},{"par":15,"ery":33,"n":10},{"par":16,"ery":33,"n":10},{"par":17,"ery":33,"n":10},{"par":18,"ery":33,"n":10},{"par":19,"ery":33,"n":10},{"par":20,"ery":33,"n":10},{"par":21,"ery":33,"n":10},{"par":22,"ery":33,"n":10},{"par":23,"ery":33,"n":10},{"par":24,"ery":33,"n":10},{"par":25,"ery":33,"n":10},{"par":26,"ery":33,"n":10},{"par":27,"ery":33,"n":10},{"par":28,"ery":33,"n":10},{"par":29,"ery":33,"n":10},{"par":30,"ery":33,"n":10},{"par":31,"ery":33,"n":10},{"par":32,"ery":33,"n":10},{"par":33,"ery":33,"n":10},{"par":34,"ery":33,"n":10},{"par":35,"ery":33,"n":10},{"par":36,"ery":33,"n":160},
{"par":0,"ery":34,"n":10},{"par":1,"ery":34,"n":10},{"par":2,"ery":34,"n":10},{"par":3,"ery":34,"n":10},{"par":4,"ery":34,"n":10},{"par":5,"ery":34,"n":10},{"par":6,"ery":34,"n":10},{"par":7,"ery":34,"n":10},{"par":8,"ery":34,"n":10},{"par":9,"ery":34,"n":10},{"par":10,"ery":34,"n":10},{"par":11,"ery":34,"n":10},{"par":12,"ery":34,"n":10},{"par":13,"ery":34,"n":10},{"par":14,"ery":34,"n":10},{"par":15,"ery":34,"n":10},{"par":16,"ery":34,"n":10},{"par":17,"ery":34,"n":10},{"par":18,"ery":34,"n":10},{"par":19,"ery":34,"n":10},{"par":20,"ery":34,"n":10},{"par":21,"ery":34,"n":10},{"par":22,"ery":34,"n":10},{"par":23,"ery":34,"n":10},{"par":24,"ery":34,"n":10},{"par":25,"ery":34,"n":10},{"par":26,"ery":34,"n":10},{"par":27,"ery":34,"n":10},{"par":28,"ery":34,"n":10},{"par":29,"ery":34,"n":10},{"par":30,"ery":34,"n":10},{"par":31,"ery":34,"n":10},{"par":32,"ery":34,"n":10},{"par":33,"ery":34,"n":10},{"par":34,"ery":34,"n":10},{"par":35,"ery":34,"n":10},{"par":36,"ery":34,"n":310},
{"par":0,"ery":35,"n":10},{"par":1,"ery":35,"n":10},{"par":2,"ery":35,"n":10},{"par":3,"ery":35,"n":10},{"par":4,"ery":35,"n":10},{"par":5,"ery":35,"n":10},{"par":6,"ery":35,"n":10},{"par":7,"ery":35,"n":10},{"par":8,"ery":35,"n":10},{"par":9,"ery":35,"n":10},{"par":10,"ery":35,"n":10},{"par":11,"ery":35,"n":10},{"par":12,"ery":35,"n":10},{"par":13,"ery":35,"n":10},{"par":14,"ery":35,"n":10},{"par":15,"ery":35,"n":10},{"par":16,"ery":35,"n":10},{"par":17,"ery":35,"n":10},{"par":18,"ery":35,"n":10},{"par":19,"ery":35,"n":10},{"par":20,"ery":35,"n":10},{"par":21,"ery":35,"n":10},{"par":22,"ery":35,"n":10},{"par":23,"ery":35,"n":10},{"par":24,"ery":35,"n":10},{"par":25,"ery":35,"n":10},{"par":26,"ery":35,"n":10},{"par":27,"ery":35,"n":10},{"par":28,"ery":35,"n":10},{"par":29,"ery":35,"n":10},{"par":30,"ery":35,"n":10},{"par":31,"ery":35,"n":10},{"par":32,"ery":35,"n":10},{"par":33,"ery":35,"n":10},{"par":34,"ery":35,"n":10},{"par":35,"ery":35,"n":10},{"par":36,"ery":35,"n":310},
{"par":0,"ery":36,"n":160},{"par":1,"ery":36,"n":10},{"par":2,"ery":36,"n":10},{"par":3,"ery":36,"n":10},{"par":4,"ery":36,"n":10},{"par":5,"ery":36,"n":10},{"par":6,"ery":36,"n":10},{"par":7,"ery":36,"n":10},{"par":8,"ery":36,"n":10},{"par":9,"ery":36,"n":10},{"par":10,"ery":36,"n":10},{"par":11,"ery":36,"n":10},{"par":12,"ery":36,"n":10},{"par":13,"ery":36,"n":10},{"par":14,"ery":36,"n":10},{"par":15,"ery":36,"n":10},{"par":16,"ery":36,"n":10},{"par":17,"ery":36,"n":10},{"par":18,"ery":36,"n":160},{"par":19,"ery":36,"n":10},{"par":20,"ery":36,"n":10},{"par":21,"ery":36,"n":10},{"par":22,"ery":36,"n":10},{"par":23,"ery":36,"n":10},{"par":24,"ery":36,"n":160},{"par":25,"ery":36,"n":10},{"par":26,"ery":36,"n":10},{"par":27,"ery":36,"n":10},{"par":28,"ery":36,"n":160},{"par":29,"ery":36,"n":10},{"par":30,"ery":36,"n":10},{"par":31,"ery":36,"n":310},{"par":32,"ery":36,"n":10},{"par":33,"ery":36,"n":160},{"par":34,"ery":36,"n":160},{"par":35,"ery":36,"n":160},{"par":36,"ery":36,"n":310}
]},
"mark": {"type": "rect", "binSpacing": 0, "strokeWidth": 0},
"encoding": {
"x": {"field": "par", "type": "quantitative", "bin": {"binned": true, "step": 1}, "scale": {"domain": [0, 37], "nice": false, "zero": false},
 "axis": {"values": [0,5,10,15,20,25,30,35], "format": "d", "title": "PAR", "domain": false, "grid": false, "tickSize": 19, "tickWidth": 1.5, "tickColor": "black", "labelFontSize": 32, "labelFont": "Liberation Sans", "labelColor": "black", "labelPadding": 25, "labelAngle": 0, "labelFlush": false, "labelOverlap": false, "titleFontSize": 32, "titleFont": "Liberation Sans", "titleFontWeight": "normal", "titleColor": "black", "titleX": 472.5, "titleY": 147, "titleBaseline": "alphabetic", "titleAlign": "center"}},
"y": {"field": "ery", "type": "quantitative", "bin": {"binned": true, "step": 1}, "scale": {"domain": [0, 37], "nice": false, "zero": false},
 "axis": {"values": [0,5,10,15,20,25,30,35], "format": "d", "title": "ERY", "domain": false, "grid": false, "tickSize": 19, "tickWidth": 1.5, "tickColor": "black", "labelFontSize": 32, "labelFont": "Liberation Sans", "labelColor": "black", "labelPadding": 26, "labelAngle": 270, "labelAlign": "center", "labelBaseline": "alphabetic", "labelFlush": false, "labelOverlap": false, "titleFontSize": 32, "titleFont": "Liberation Sans", "titleFontWeight": "normal", "titleColor": "black", "titleAngle": 270, "titleX": -124, "titleY": 303.5, "titleBaseline": "alphabetic", "titleAlign": "center"}},
"color": {"field": "n", "type": "quantitative",
 "scale": {"type": "linear", "domain": [0, 9460], "interpolate": "rgb", "range": ["#00008F","#00009F","#0000AF","#0000BF","#0000CF","#0000DF","#0000EF","#0000FF","#0010FF","#0020FF","#0030FF","#0040FF","#0050FF","#0060FF","#0070FF","#0080FF","#008FFF","#009FFF","#00AFFF","#00BFFF","#00CFFF","#00DFFF","#00EFFF","#00FFFF","#10FFEF","#20FFDF","#30FFCF","#40FFBF","#50FFAF","#60FF9F","#70FF8F","#80FF80","#8FFF70","#9FFF60","#AFFF50","#BFFF40","#CFFF30","#DFFF20","#EFFF10","#FFFF00","#FFEF00","#FFDF00","#FFCF00","#FFBF00","#FFAF00","#FF9F00","#FF8F00","#FF8000","#FF7000","#FF6000","#FF5000","#FF4000","#FF3000","#FF2000","#FF1000","#FF0000","#EF0000","#DF0000","#CF0000","#BF0000","#AF0000","#9F0000","#8F0000","#800000"]},
 "legend": {"title": null, "orient": "none", "legendX": 1005, "legendY": 30, "direction": "vertical", "padding": 0, "gradientLength": 546, "gradientThickness": 35, "gradientStrokeColor": "black", "gradientStrokeWidth": 1.5, "values": [0,2000,4000,6000,8000], "format": "d", "labelFontSize": 32, "labelFont": "Liberation Sans", "labelColor": "black", "labelOffset": 40, "labelBaseline": "middle", "labelOverlap": false, "labelLimit": 200,
  "encode": {"labels": {"update": {"baseline": {"value": "middle"}}}}}}
}
}
